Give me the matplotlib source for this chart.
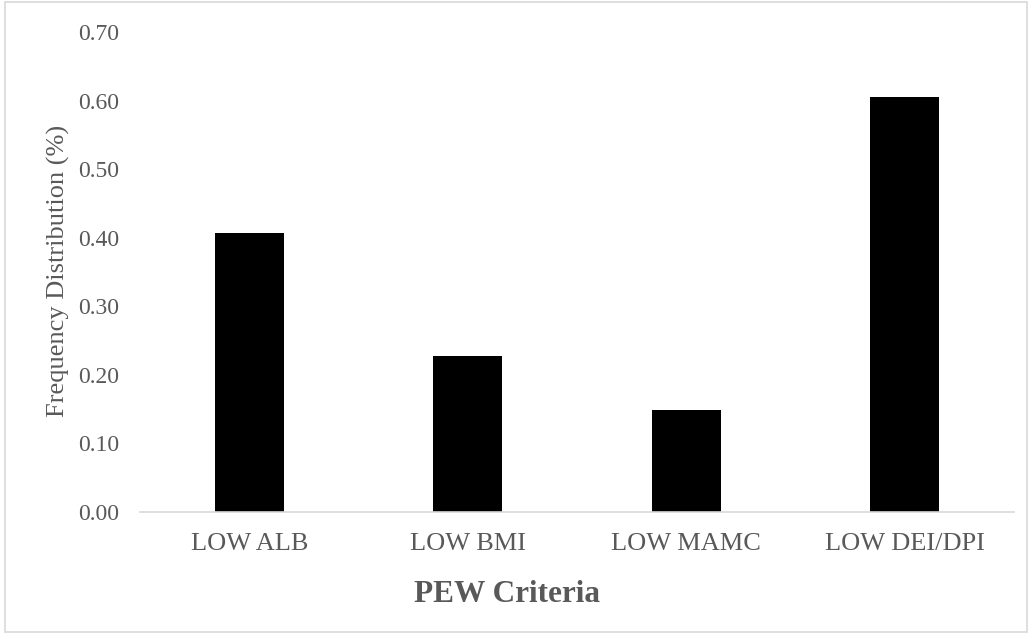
import matplotlib
matplotlib.use("Agg")
import matplotlib.pyplot as plt
from matplotlib.patches import Rectangle

# PEW criteria frequencies
categories = ["LOW ALB", "LOW BMI", "LOW MAMC", "LOW DEI/DPI"]
frequencies = [0.407, 0.227, 0.149, 0.605]
y_ticks = [0.0, 0.1, 0.2, 0.3, 0.4, 0.5, 0.6, 0.7]

plt.rcParams['font.family'] = ['Liberation Serif', 'DejaVu Serif']
text_color = '#595959'

fig = plt.figure(figsize=(10.32, 6.36), dpi=100)
ax = fig.add_axes([140 / 1032, 124 / 636, 874 / 1032, 480 / 636])

x = range(len(categories))
ax.bar(x, frequencies, width=0.316, color='black')

ax.set_xlim(-0.5, len(categories) - 0.5)
ax.set_ylim(0, 0.7)
ax.set_yticks(y_ticks)
ax.set_yticklabels([f"{v:.2f}" for v in y_ticks])
ax.set_xticks(list(x))
ax.set_xticklabels(categories)
ax.tick_params(axis='both', length=0, labelcolor=text_color)
ax.tick_params(axis='y', labelsize=17, pad=15)
ax.tick_params(axis='x', labelsize=19, pad=15)

for side in ['top', 'right', 'left']:
    ax.spines[side].set_visible(False)
ax.spines['bottom'].set_color('#D9D9D9')
ax.spines['bottom'].set_linewidth(1.2)

fig.text(58 / 1032, 1 - 271 / 636, "Frequency Distribution (%)", rotation=90,
         ha='center', va='center', fontsize=19, color=text_color)
fig.text(507 / 1032, 1 - 594 / 636, "PEW Criteria", ha='center', va='center',
         fontsize=22.5, fontweight='bold', color=text_color)

# light frame around the whole chart
fig.patches.append(Rectangle((5 / 1032, 4 / 636), 1022 / 1032, 630 / 636,
                             transform=fig.transFigure, fill=False,
                             edgecolor='#D9D9D9', linewidth=1.2))

fig.savefig("out.png", dpi=100, facecolor='white')
